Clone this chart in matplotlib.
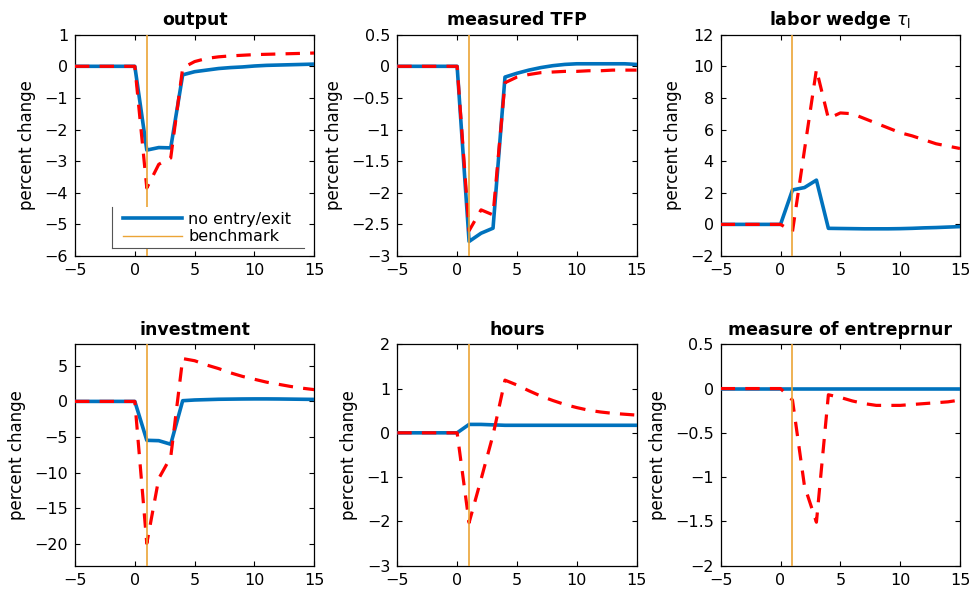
import numpy as np
import matplotlib
matplotlib.use("Agg")
import matplotlib.pyplot as plt
from matplotlib.ticker import FuncFormatter, MultipleLocator
from matplotlib.lines import Line2D
from matplotlib.patches import Rectangle

plt.rcParams['font.family'] = ['DejaVu Sans']

periods = list(range(-5, 16))
pre = [0.0] * 6

output_noentry = pre + [-2.65, -2.57, -2.58, -0.27, -0.17, -0.12, -0.07, -0.04, -0.02, 0.01, 0.03, 0.04, 0.05, 0.06, 0.07]
output_bench = pre + [-3.85, -3.1, -2.9, -0.05, 0.15, 0.25, 0.3, 0.33, 0.35, 0.37, 0.38, 0.39, 0.40, 0.41, 0.42]

tfp_noentry = pre + [-2.77, -2.64, -2.56, -0.17, -0.11, -0.06, -0.02, 0.01, 0.03, 0.04, 0.04, 0.04, 0.04, 0.04, 0.03]
tfp_bench = pre + [-2.6, -2.27, -2.35, -0.26, -0.17, -0.13, -0.10, -0.09, -0.08, -0.08, -0.07, -0.07, -0.06, -0.06, -0.06]

wedge_noentry = pre + [2.18, 2.33, 2.8, -0.25, -0.26, -0.27, -0.28, -0.28, -0.28, -0.27, -0.25, -0.22, -0.2, -0.17, -0.14]
wedge_bench = pre + [-0.45, 4.7, 9.8, 6.7, 7.05, 7.0, 6.7, 6.4, 6.1, 5.8, 5.6, 5.35, 5.1, 4.95, 4.8]

invest_noentry = pre + [-5.45, -5.5, -6.0, 0.1, 0.2, 0.25, 0.3, 0.32, 0.34, 0.35, 0.35, 0.34, 0.32, 0.3, 0.28]
invest_bench = pre + [-19.9, -10.8, -7.8, 6.0, 5.7, 5.1, 4.6, 4.0, 3.5, 3.1, 2.7, 2.4, 2.1, 1.85, 1.65]

hours_noentry = pre + [0.19, 0.19, 0.18, 0.17, 0.17, 0.17, 0.17, 0.17, 0.17, 0.17, 0.17, 0.17, 0.17, 0.17, 0.17]
hours_bench = pre + [-2.03, -1.05, -0.05, 1.19, 1.08, 0.95, 0.83, 0.73, 0.64, 0.57, 0.51, 0.47, 0.44, 0.42, 0.40]

entre_noentry = pre + [0.0] * 15
entre_bench = pre + [-0.13, -1.1, -1.51, -0.07, -0.1, -0.14, -0.17, -0.19, -0.19, -0.19, -0.18, -0.17, -0.16, -0.15, -0.13]

titles = ["output", "measured TFP", r"labor wedge $\tau_\mathrm{l}$",
          "investment", "hours", "measure of entreprnur"]
ylims = [(-6, 1), (-3, 0.5), (-2, 12), (-23, 8), (-3, 2), (-2, 0.5)]
ysteps = [1, 0.5, 2, 5, 1, 0.5]
shock_period = 1
legend_labels = ["no entry/exit", "benchmark"]

series = [(output_noentry, output_bench), (tfp_noentry, tfp_bench),
          (wedge_noentry, wedge_bench), (invest_noentry, invest_bench),
          (hours_noentry, hours_bench), (entre_noentry, entre_bench)]

BLUE = '#0072BD'
RED = '#FF0000'
ORANGE = '#EBA436'

W, H = 972, 592
fig = plt.figure(figsize=(W / 100, H / 100), dpi=100)

lefts = [75, 397.3, 720.7]
tops = [34.7, 344.3]
aw, ah = 239.3, 221.3

fmt = FuncFormatter(lambda v, p: ('%g' % v).replace('-', '\u2212'))

axes = []
for i in range(6):
    r, c = divmod(i, 3)
    ax = fig.add_axes([lefts[c] / W, 1 - (tops[r] + ah) / H, aw / W, ah / H])
    axes.append(ax)
    nb, bm = series[i]
    ax.plot(periods, nb, color=BLUE, lw=2.6, zorder=3)
    ax.plot(periods, bm, color=RED, lw=2.3, linestyle=(0, (4.5, 3.2)), zorder=4)
    lo, hi = ylims[i]
    ax.plot([shock_period, shock_period], [lo, hi], color=ORANGE, lw=1.2, zorder=5)
    ax.set_xlim(-5, 15)
    ax.set_ylim(lo, hi)
    ax.xaxis.set_major_locator(MultipleLocator(5))
    ax.yaxis.set_major_locator(MultipleLocator(ysteps[i]))
    ax.xaxis.set_major_formatter(fmt)
    ax.yaxis.set_major_formatter(fmt)
    ax.tick_params(direction='in', length=3.5, width=0.8, top=True, right=True,
                   labelsize=11.5, pad=5)
    for s in ax.spines.values():
        s.set_linewidth(0.9)
    ax.set_title(titles[i], fontsize=12.5, fontweight='bold', pad=7)
    ax.set_ylabel("percent change", fontsize=12, labelpad=6)

# legend in first panel
ax0 = axes[0]
lx0 = (111.7 - 75) / aw
ly0 = (256 - 248.3) / ah
lx1 = (304 - 75) / aw
ly1 = (256 - 206.7) / ah
ax0.add_patch(Rectangle((lx0, ly0), lx1 - lx0, ly1 - ly0, transform=ax0.transAxes,
                        facecolor='white', edgecolor='none', zorder=6))
ax0.plot([lx0, lx0], [ly0, ly1], transform=ax0.transAxes, color='#555555', lw=0.8, zorder=7)
ax0.plot([lx0, lx1], [ly0, ly0], transform=ax0.transAxes, color='#555555', lw=0.8, zorder=7)
handles = [Line2D([], [], color=BLUE, lw=2.6), Line2D([], [], color=ORANGE, lw=1.0)]
leg = ax0.legend(handles, legend_labels, loc='center left',
                 bbox_to_anchor=((123 - 75) / aw, (256 - 228.2) / ah),
                 frameon=False, fontsize=11.5, handlelength=3.7, handletextpad=0.4,
                 labelspacing=0.15, borderpad=0, borderaxespad=0)
leg.set_zorder(8)

fig.savefig("out.png", dpi=100)
